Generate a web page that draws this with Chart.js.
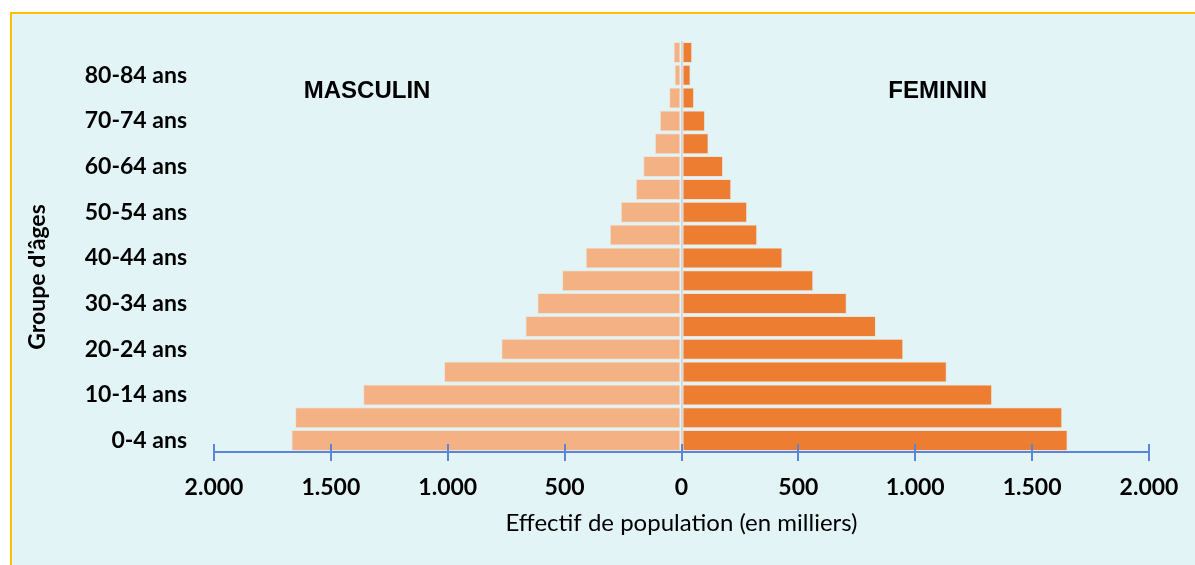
<!DOCTYPE html>
<html lang="fr">
<head>
<meta charset="utf-8">
<title>Pyramide des âges</title>
<script src="https://cdn.jsdelivr.net/npm/chart.js@4.4.1/dist/chart.umd.min.js"></script>
<style>
  html, body { margin: 0; padding: 0; background: #fff; }
  body { width: 1195px; height: 565px; position: relative; overflow: hidden; }
  #cadre {
    position: absolute; left: 10px; top: 12px; right: 0; bottom: 0;
    background: #e3f4f6;
    border-left: 2px solid #ffc000;
    border-top: 2px solid #ffc000;
  }
  #pyramide { position: absolute; left: 0; top: 0; }
</style>
</head>
<body>
<div id="cadre"></div>
<canvas id="pyramide" width="1195" height="565"></canvas>
<script>
// Groupes d'âges, du plus jeune au plus âgé (effectifs en milliers)
const groupes = [
  "0-4 ans", "5-9 ans", "10-14 ans", "15-19 ans", "20-24 ans", "25-29 ans",
  "30-34 ans", "35-39 ans", "40-44 ans", "45-49 ans", "50-54 ans", "55-59 ans",
  "60-64 ans", "65-69 ans", "70-74 ans", "75-79 ans", "80-84 ans", "85 ans et +"
];
const masculin = [1669, 1653, 1362, 1016, 771, 668, 617, 511, 410, 307, 260, 196, 164, 114, 93, 53, 30, 34];
const feminin  = [1652, 1629, 1329, 1135, 949, 832, 707, 564, 432, 324, 281, 213, 178, 116, 101, 54, 39, 46];
const graduations = [-2000, -1500, -1000, -500, 0, 500, 1000, 1500, 2000];

const BLEU_AXE = "#5b85d6";

function milliers(n) {
  return String(Math.abs(n)).replace(/\B(?=(\d{3})+(?!\d))/g, ".");
}

// petites graduations qui traversent l'axe, titre vertical et libellés des sexes
const habillage = {
  id: "habillage",
  afterDraw(chart) {
    const { ctx, chartArea } = chart;
    const x = chart.scales.x;
    const yAxe = chartArea.bottom;

    ctx.save();
    ctx.strokeStyle = BLEU_AXE;
    ctx.lineWidth = 2;
    x.ticks.forEach((t) => {
      const px = Math.round(x.getPixelForValue(t.value));
      ctx.beginPath();
      ctx.moveTo(px, yAxe - 8);
      ctx.lineTo(px, yAxe + 9);
      ctx.stroke();
    });

    ctx.fillStyle = "#000";
    ctx.textAlign = "center";
    ctx.textBaseline = "middle";
    ctx.font = "bold 24px 'Liberation Sans', Arial, sans-serif";
    ctx.fillText("MASCULIN", x.getPixelForValue(-1345), chartArea.top + 50);
    ctx.fillText("FEMININ", x.getPixelForValue(1096), chartArea.top + 50);

    ctx.translate(38, 277);
    ctx.rotate(-Math.PI / 2);
    ctx.font = "bold 23px Lato, sans-serif";
    ctx.fillText("Groupe d'âges", 0, 0);
    ctx.restore();
  }
};

new Chart(document.getElementById("pyramide"), {
  type: "bar",
  data: {
    labels: groupes,
    datasets: [
      {
        label: "MASCULIN",
        data: masculin.map((v) => -v),
        backgroundColor: "#f4b183",
        borderColor: "#ebe3dd",
        borderWidth: 1,
        borderSkipped: false,
        barPercentage: 0.92,
        categoryPercentage: 1
      },
      {
        label: "FEMININ",
        data: feminin,
        backgroundColor: "#ed7d31",
        borderColor: "#ebe3dd",
        borderWidth: 1,
        borderSkipped: false,
        barPercentage: 0.92,
        categoryPercentage: 1
      }
    ]
  },
  options: {
    indexAxis: "y",
    responsive: false,
    animation: false,
    layout: { padding: { top: 41, right: 46, left: 0, bottom: 0 } },
    plugins: {
      legend: { display: false },
      tooltip: { enabled: false }
    },
    scales: {
      x: {
        stacked: true,
        min: -2000,
        max: 2000,
        afterBuildTicks: (scale) => {
          scale.ticks = graduations.map((v) => ({ value: v }));
        },
        afterFit: (scale) => {
          scale.height = 113;
          scale.paddingLeft = 0;
          scale.paddingRight = 0;
        },
        grid: {
          drawOnChartArea: true,
          drawTicks: false,
          lineWidth: 2,
          color: (c) => (c.tick && c.tick.value === 0 ? "#d6d6d6" : "rgba(0,0,0,0)")
        },
        border: { display: true, color: BLEU_AXE, width: 2 },
        ticks: {
          autoSkip: false,
          maxRotation: 0,
          padding: 22,
          color: "#000",
          font: { family: "Lato, sans-serif", size: 23, weight: "bold" },
          callback: (v) => milliers(v)
        },
        title: {
          display: true,
          text: "Effectif de population (en milliers)",
          color: "#000",
          font: { family: "Lato, sans-serif", size: 24, weight: "normal" },
          padding: { top: 28, bottom: 27 }
        }
      },
      y: {
        stacked: true,
        reverse: true,
        afterFit: (scale) => { scale.width = 214; },
        grid: { display: false },
        border: { display: false },
        ticks: {
          autoSkip: false,
          padding: 19,
          color: "#000",
          font: { family: "Lato, sans-serif", size: 23, weight: "bold" },
          callback: (v, i) => (i % 2 === 0 ? groupes[i] : "")
        }
      }
    }
  },
  plugins: [habillage]
});
</script>
</body>
</html>
